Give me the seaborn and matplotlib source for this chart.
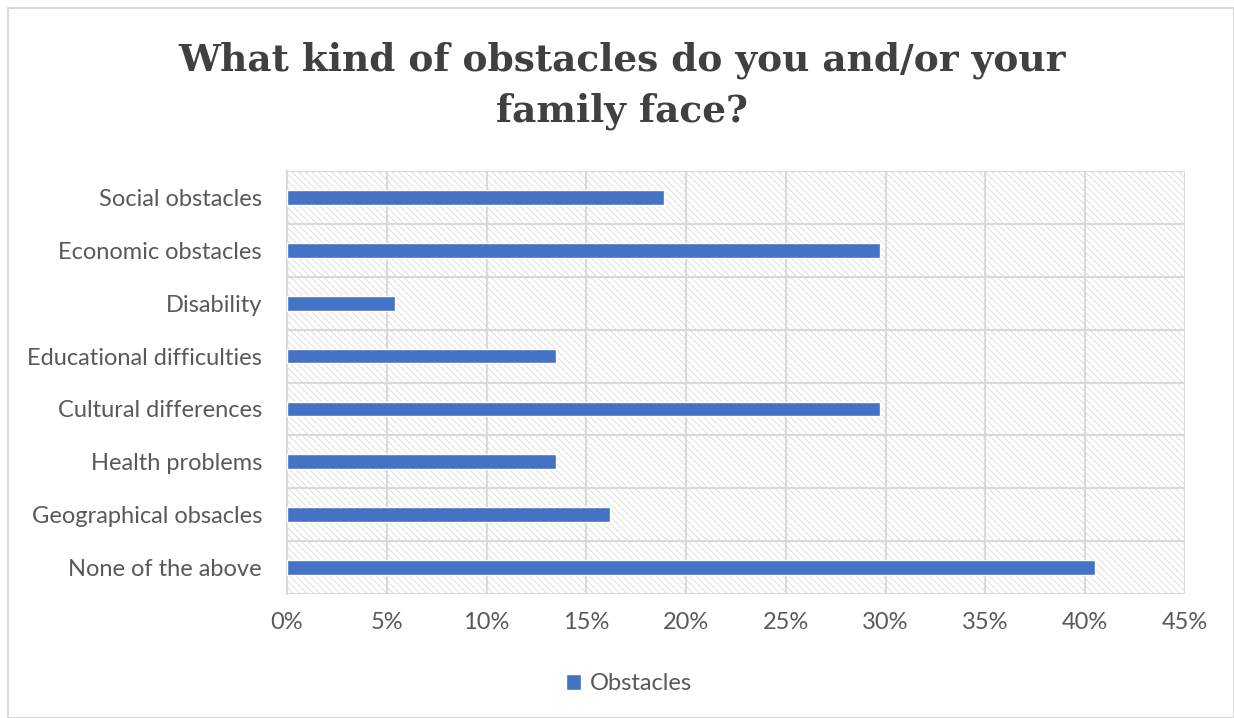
import matplotlib
matplotlib.use("Agg")
import matplotlib.pyplot as plt
import seaborn as sns
import pandas as pd
from matplotlib.patches import Rectangle
from matplotlib.ticker import PercentFormatter, MultipleLocator, FixedLocator

categories = ["Social obstacles", "Economic obstacles", "Disability",
              "Educational difficulties", "Cultural differences",
              "Health problems", "Geographical obsacles", "None of the above"]
values = [18.9, 29.7, 5.4, 13.5, 29.7, 13.5, 16.2, 40.5]
series_name = "Obstacles"
title = "What kind of obstacles do you and/or your\nfamily face?"

df = pd.DataFrame({"category": categories, "value": values, "series": series_name})

sns.set_theme(style="white")
plt.rcParams["font.family"] = ["Lato", "DejaVu Sans"]
plt.rcParams["hatch.linewidth"] = 0.6
plt.rcParams["hatch.color"] = "#d9d9d9"

fig = plt.figure(figsize=(12.34, 7.18), dpi=100)
ax = fig.add_axes([287/1234, 1-594/718, (1185-287)/1234, (594-171)/718])

# hatched background
ax.add_patch(Rectangle((0, 0), 1, 1, transform=ax.transAxes, facecolor="white",
                       hatch="\\\\\\\\\\", edgecolor="#d9d9d9", linewidth=0, zorder=0))

sns.barplot(data=df, x="value", y="category", hue="series", palette=["#4472c4"],
            saturation=1, width=0.28, ax=ax, orient="h", zorder=3, legend=True)

ax.set_xlim(0, 45)
ax.set_ylim(len(categories) - 0.5, -0.5)
ax.xaxis.set_major_locator(MultipleLocator(5))
ax.xaxis.set_major_formatter(PercentFormatter(decimals=0))
ax.yaxis.set_minor_locator(FixedLocator([i - 0.5 for i in range(len(categories) + 1)]))
ax.grid(axis="x", which="major", color="#d9d9d9", linewidth=1.5, zorder=1)
ax.grid(axis="y", which="minor", color="#d9d9d9", linewidth=1.5, zorder=1)
ax.set_axisbelow(True)
for s in ax.spines.values():
    s.set_visible(False)
ax.spines["left"].set_visible(True)
ax.spines["left"].set_color("#d9d9d9")
ax.spines["left"].set_linewidth(1.5)
ax.tick_params(axis="y", which="major", length=0, pad=18, labelsize=17, labelcolor="#595959")
ax.tick_params(axis="y", which="minor", length=9, width=1.5, color="#d9d9d9", direction="out")
ax.tick_params(axis="x", which="major", length=0, pad=13, labelsize=17, labelcolor="#595959")
ax.set_xlabel("")
ax.set_ylabel("")

leg = ax.legend(loc="center", bbox_to_anchor=(629/1234, 1 - 684/718),
                bbox_transform=fig.transFigure, ncol=1, frameon=False,
                fontsize=17, handlelength=0.65, handleheight=0.65, handletextpad=0.35)
for t in leg.get_texts():
    t.set_color("#595959")

fig.text(622/1234, 1 - 86/718, title, ha="center", va="center", fontsize=27,
         fontweight="bold", color="#404040", family=["DejaVu Serif"], linespacing=1.45)

# outer border
fig.add_artist(Rectangle((8/1234, 0), 1 - 8/1234, 1 - 8/718, transform=fig.transFigure,
                         fill=False, edgecolor="#d9d9d9", linewidth=1.5))

fig.savefig("out.png", dpi=100)
